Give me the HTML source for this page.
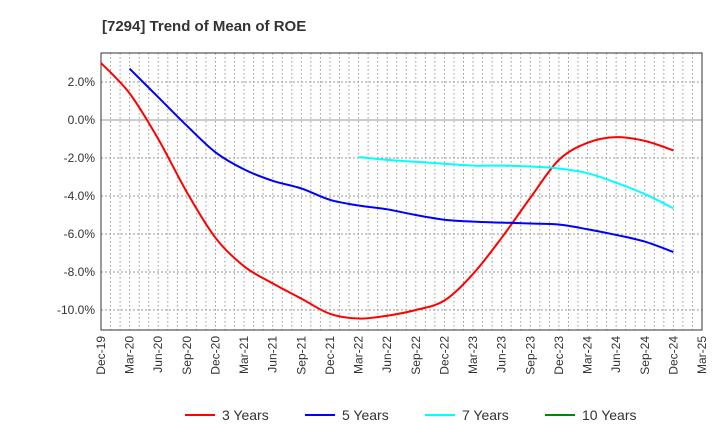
<!DOCTYPE html>
<html><head><meta charset="utf-8"><style>
body{margin:0;background:#fff;font-family:"Liberation Sans",sans-serif;}
</style></head><body>
<svg id="c" width="720" height="440" xmlns="http://www.w3.org/2000/svg" font-family="Liberation Sans, sans-serif">
<text x="102" y="31" font-size="15" font-weight="bold" fill="#333">[7294]  Trend of Mean of ROE</text>
<g id="grid"></g><g id="axes"></g><g id="series"></g><g id="legend"></g>
</svg>
<script>
const categories=["Dec-19","Mar-20","Jun-20","Sep-20","Dec-20","Mar-21","Jun-21","Sep-21","Dec-21","Mar-22","Jun-22","Sep-22","Dec-22","Mar-23","Jun-23","Sep-23","Dec-23","Mar-24","Jun-24","Sep-24","Dec-24","Mar-25"];
const yTicks=[2,0,-2,-4,-6,-8,-10];
const y3=[3.0,1.4,-1.0,-3.8,-6.2,-7.7,-8.6,-9.4,-10.2,-10.45,-10.3,-10.0,-9.5,-8.1,-6.2,-4.1,-2.1,-1.2,-0.9,-1.1,-1.6];
const y5=[null,2.7,1.2,-0.3,-1.7,-2.6,-3.2,-3.6,-4.2,-4.5,-4.7,-5.0,-5.25,-5.35,-5.4,-5.45,-5.5,-5.75,-6.05,-6.4,-6.95];
const y7=[null,null,null,null,null,null,null,null,null,-1.95,-2.1,-2.2,-2.3,-2.4,-2.4,-2.45,-2.55,-2.8,-3.3,-3.9,-4.65];
const y10=[];
const L=101,R=702,T=53,B=330;
const X=i=>L+i*(R-L)/21;
const Y=v=>120-v*19;
const NS="http://www.w3.org/2000/svg";
function mk(t,a,p){const e=document.createElementNS(NS,t);for(const k in a)e.setAttribute(k,a[k]);p.appendChild(e);return e;}
const g=document.getElementById('grid'),ax=document.getElementById('axes'),s=document.getElementById('series'),lg=document.getElementById('legend');
for(let m=1;m<63;m++){const x=L+m*(R-L)/63;const l=mk('line',{x1:x,x2:x,y1:T,y2:B,stroke:'#999','stroke-dasharray':'1.5,2.5','stroke-width':1},g);

}
yTicks.forEach(v=>{const y=Y(v);const l=mk('line',{x1:L,x2:R,y1:y,y2:y,stroke:v===0?'#999':'#999','stroke-dasharray':v===0?'none':'2,2'},g);


const t=mk('text',{x:L-6,y:y+4,'text-anchor':'end','font-size':12,fill:'#333'},ax);t.textContent=v.toFixed(1)+'%';

});
const fr=mk('rect',{x:L,y:T,width:R-L,height:B-T,fill:'none',stroke:'#333'},ax);


categories.forEach((c,i)=>{const x=X(i);const t=mk('text',{transform:`translate(${x+4},${B+6}) rotate(-90)`,'text-anchor':'end','font-size':12,fill:'#333'},ax);t.textContent=c;

});
function path(arr){const p=[];arr.forEach((v,i)=>{if(v!=null)p.push([X(i),Y(v)]);});if(!p.length)return '';
let d=`M${p[0][0]},${p[0][1]}`;for(let i=0;i<p.length-1;i++){const p0=p[i-1]||p[i],p1=p[i],p2=p[i+1],p3=p[i+2]||p2;
d+=`C${p1[0]+(p2[0]-p0[0])/6},${p1[1]+(p2[1]-p0[1])/6} ${p2[0]-(p3[0]-p1[0])/6},${p2[1]-(p3[1]-p1[1])/6} ${p2[0]},${p2[1]}`;}return d;}
[[y3,'#f00','series-3-years'],[y5,'#00f','series-5-years'],[y7,'#0ff','series-7-years'],[y10,'#080','series-10-years']].forEach(([a,c,n])=>{const d=path(a);if(!d)return;
const e=mk('path',{d:d,fill:'none',stroke:c,'stroke-width':2},s);

});
[['3 Years','#f00',185],['5 Years','#00f',305],['7 Years','#0ff',425],['10 Years','#080',545]].forEach(([t,c,x])=>{const gg=mk('g',{},lg);


mk('line',{x1:x,x2:x+30,y1:415,y2:415,stroke:c,'stroke-width':2},gg);const tx=mk('text',{x:x+37,y:420,'font-size':14,fill:'#333'},gg);tx.textContent=t;});
</script>
</body></html>
